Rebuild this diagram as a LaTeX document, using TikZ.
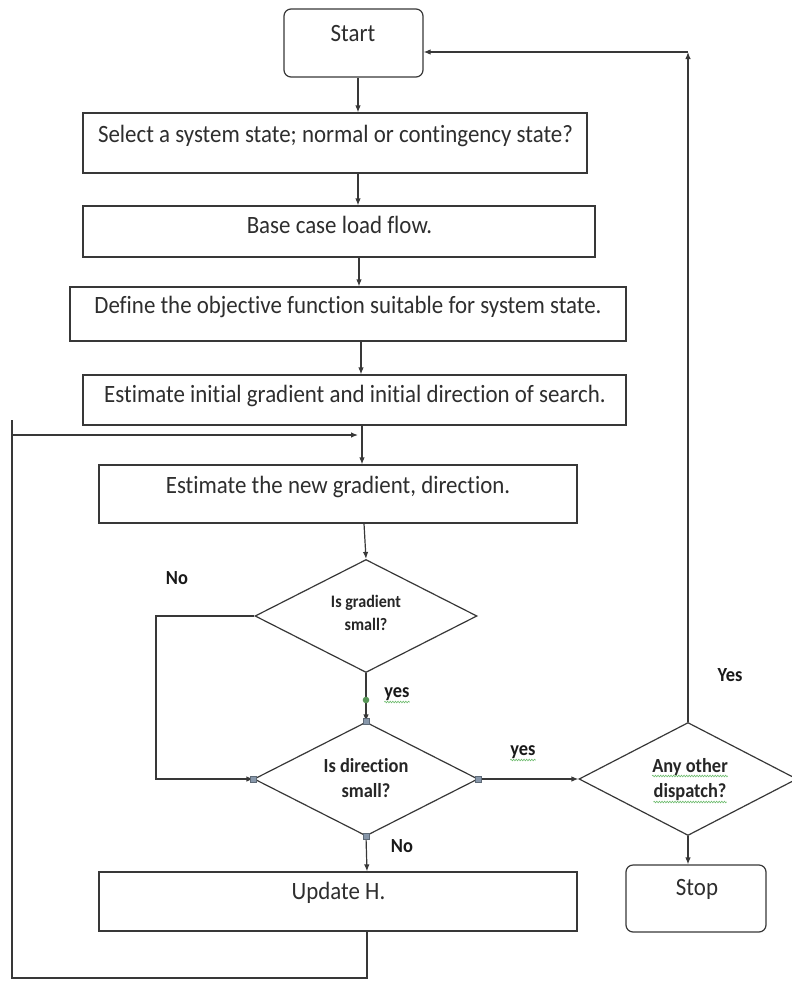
\documentclass[tikz,border=0pt]{standalone}
\usepackage{fontspec}
\setmainfont{Carlito}[FakeStretch=0.92, Ligatures=NoCommon]
\usetikzlibrary{arrows.meta,shapes.geometric,decorations.pathmorphing}
\definecolor{ln}{HTML}{383838}
\definecolor{tx}{HTML}{2E2E2E}
\definecolor{hd}{HTML}{8797AA}
\definecolor{sp}{HTML}{6DBB6D}
\tikzset{
  box/.style={draw=ln, line width=1.2pt, rectangle, inner sep=0pt},
  rbox/.style={box, rounded corners=7pt},
  dia/.style={draw=ln, line width=1.2pt, diamond, inner sep=0pt},
  btxt/.style={anchor=base, inner sep=0pt, text=tx, font=\fontsize{24.9}{28}\selectfont},
  dtxt/.style={anchor=base, inner sep=0pt, text=black!85, font=\fontsize{20}{24}\selectfont\bfseries},
  gtxt/.style={anchor=base, inner sep=0pt, text=black!85, font=\fontsize{17.5}{21}\selectfont\bfseries},
  lbl/.style={anchor=base, inner sep=0pt, text=black!90, font=\fontsize{20}{24}\selectfont\bfseries},
  arr/.style={draw=ln, line width=1.2pt, -{Latex[length=7pt,width=5.5pt]}},
  con/.style={draw=ln, line width=1.2pt},
  wavy/.style={draw=sp, line width=0.6pt, decorate, decoration={snake, amplitude=0.8pt, segment length=2.6pt}},
  handle/.style={draw=hd!70!black, fill=hd, line width=0.4pt, minimum size=6pt, inner sep=0pt, rectangle}
}
\begin{document}
\begin{tikzpicture}[x=1pt,y=-1pt]
\useasboundingbox (0,0) rectangle (792,983);
\fill[white] (0,0) rectangle (792,983);

% boxes
\node[rbox, minimum width=139pt, minimum height=68pt] (start) at (353.5,43) {};
\node[box, minimum width=504pt, minimum height=60pt] (b1) at (335,143) {};
\node[box, minimum width=512pt, minimum height=51pt] (b2) at (339,231.5) {};
\node[box, minimum width=556pt, minimum height=54pt] (b3) at (348,314) {};
\node[box, minimum width=543pt, minimum height=50pt] (b4) at (354.5,400) {};
\node[box, minimum width=478pt, minimum height=58pt] (b5) at (338,494) {};
\node[dia, minimum width=222pt, minimum height=113pt] (d1) at (366,616) {};
\node[dia, minimum width=224pt, minimum height=114pt] (d2) at (366,779) {};
\node[dia, minimum width=218pt, minimum height=113pt] (d3) at (688,779) {};
\node[rbox, minimum width=140pt, minimum height=67pt] (stop) at (696,898.5) {};
\node[box, minimum width=478pt, minimum height=59pt] (b6) at (338,901.5) {};

% texts
\node[btxt] (tstart) at (353,41) {Start};
\node[btxt] (t1) at (335.5,142) {Select a system state; normal or contingency state?};
\node[btxt] (t2) at (339.5,233) {Base case load flow.};
\node[btxt] (t3) at (348,313) {Define the objective function suitable for system state.};
\node[btxt] (t4) at (355,402) {Estimate initial gradient and initial direction of search.};
\node[btxt] (t5) at (338,493) {Estimate the new gradient, direction.};
\node[btxt] (t6) at (338.5,899) {Update H.};
\node[btxt] (tstop) at (697,895) {Stop};
\node[gtxt] (td1a) at (366,607) {Is gradient};
\node[gtxt] (td1b) at (366,630) {small?};
\node[dtxt] (td2a) at (366,772) {Is direction};
\node[dtxt] (td2b) at (366,797) {small?};
\node[dtxt] (td3a) at (690,772) {Any other};
\node[dtxt] (td3b) at (690,797) {dispatch?};

% labels
\node[lbl] (no1) at (177,584) {No};
\node[lbl] (yes1) at (397,697) {yes};
\node[lbl] (yes2) at (523,755) {yes};
\node[lbl] (no2) at (402,852) {No};
\node[lbl] (yes3) at (730,681) {Yes};

% spell-check underlines
\draw[wavy] ([yshift=-5pt]yes1.base west) -- ([yshift=-5pt]yes1.base east);
\draw[wavy] ([yshift=-5pt]yes2.base west) -- ([yshift=-5pt]yes2.base east);
\draw[wavy] ([yshift=-4pt]td3a.base west) -- ([yshift=-4pt]td3a.base east);
\draw[wavy] ([yshift=-5pt]td3b.base west) -- ([yshift=-5pt]td3b.base east);

% column coordinates
\coordinate (x358) at (358,0);
\coordinate (x359) at (359,0);
\coordinate (x361) at (361,0);
\coordinate (x362) at (362,0);
\coordinate (x364) at (364,0);
\coordinate (x367) at (367,0);
\coordinate (x156) at (156,0);
\coordinate (loopL) at (12,435);
\coordinate (loopTop) at (12,420);
\coordinate (loopB) at (12,978);
\coordinate (ret) at (688,52);

% main flow
\draw[arr] (x358 |- start.south) -- (x358 |- b1.north);
\draw[arr] (x358 |- b1.south) -- (x358 |- b2.north);
\draw[arr] (x359 |- b2.south) -- (x359 |- b3.north);
\draw[arr] (x361 |- b3.south) -- (x361 |- b4.north);
\draw[arr] (x362 |- b4.south) -- (x362 |- b5.north);
\draw[arr] (x364 |- b5.south) -- (d1.north);
\draw[arr] (d1.south) -- (d2.north);
\draw[arr] (d1.west) -- (x156 |- d1.west) |- (d2.west);
\draw[arr] (d2.east) -- (d3.west);
\draw[arr] (d2.south) -- (x367 |- b6.north);
\draw[arr] (d3.south) -- (d3.south |- stop.north);

% loop back
\draw[con] (x367 |- b6.south) -- (x367 |- loopB) -- (loopB) -- (loopTop);
\draw[arr] (loopL) -- (x358 |- loopL);

% return to start
\draw[arr] (d3.north) -- (ret);
\draw[arr] (ret) -- (start.east |- ret);

% editor handles
\fill[sp!80!black] (366,700) circle (3.3pt);
\node[handle] (h1) at (d2.north) {};
\node[handle] (h2) at (d2.west) {};
\node[handle] (h3) at (d2.east) {};
\node[handle] (h4) at (d2.south) {};
\end{tikzpicture}
\end{document}
